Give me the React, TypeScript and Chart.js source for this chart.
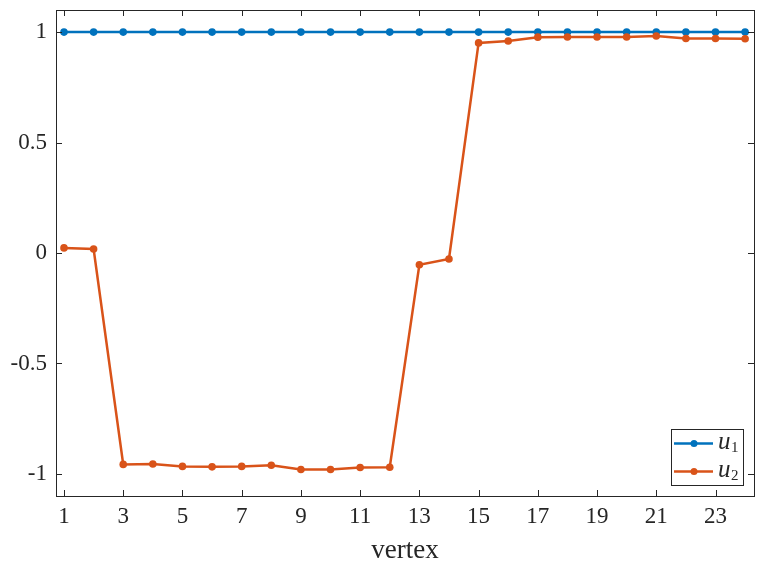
import React, { useEffect, useRef } from 'react';
import { Chart, registerables } from 'chart.js';

Chart.register(...registerables);

const vertices = [1, 2, 3, 4, 5, 6, 7, 8, 9, 10, 11, 12, 13, 14, 15, 16, 17, 18, 19, 20, 21, 22, 23, 24];
const u1 = [1, 1, 1, 1, 1, 1, 1, 1, 1, 1, 1, 1, 1, 1, 1, 1, 1, 1, 1, 1, 1, 1, 1, 1];
const u2 = [0.023, 0.018, -0.957, -0.955, -0.966, -0.968, -0.966, -0.961, -0.98, -0.98, -0.971, -0.97, -0.053, -0.027, 0.951, 0.96, 0.977, 0.978, 0.978, 0.978, 0.982, 0.971, 0.971, 0.97];
const xTicks = [1, 3, 5, 7, 9, 11, 13, 15, 17, 19, 21, 23];
const yTicks = [-1, -0.5, 0, 0.5, 1];
const yTickLabels = ['-1', '-0.5', '0', '0.5', '1'];
const seriesNames = ['1', '2'];
const seriesColors = ['#0072BD', '#D95319'];

const AXIS = '#262626';
const FONT = 'Liberation Serif';

const boxPlugin = {
  id: 'matlabBox',
  afterDatasetsDraw(chart: any) {
    const { ctx, chartArea: a, scales } = chart;
    ctx.save();
    ctx.strokeStyle = AXIS;
    ctx.lineWidth = 1;
    ctx.beginPath();
    const L = 6;
    for (const t of scales.x.ticks) {
      const px = Math.round(scales.x.getPixelForValue(t.value)) + 0.5;
      ctx.moveTo(px, a.bottom);
      ctx.lineTo(px, a.bottom - L);
      ctx.moveTo(px, a.top);
      ctx.lineTo(px, a.top + L);
    }
    for (const t of scales.y.ticks) {
      const py = Math.round(scales.y.getPixelForValue(t.value)) + 0.5;
      ctx.moveTo(a.left, py);
      ctx.lineTo(a.left + L, py);
      ctx.moveTo(a.right, py);
      ctx.lineTo(a.right - L, py);
    }
    ctx.stroke();
    ctx.strokeRect(Math.round(a.left) + 0.5, Math.round(a.top) + 0.5, Math.round(a.right - a.left), Math.round(a.bottom - a.top));

    // legend
    const lx = 671.5, ly = 429.5, lw = 72, lh = 56;
    ctx.fillStyle = '#ffffff';
    ctx.fillRect(lx, ly, lw, lh);
    ctx.strokeRect(lx, ly, lw, lh);
    const rows = [443.5, 471.5];
    chart.data.datasets.forEach((ds: any, i: number) => {
      const y = rows[i];
      ctx.strokeStyle = ds.borderColor;
      ctx.lineWidth = 2.5;
      ctx.beginPath();
      ctx.moveTo(674, y);
      ctx.lineTo(713, y);
      ctx.stroke();
      ctx.fillStyle = ds.borderColor;
      ctx.beginPath();
      ctx.arc(694, y, 3.5, 0, Math.PI * 2);
      ctx.fill();
      ctx.fillStyle = AXIS;
      ctx.textBaseline = 'alphabetic';
      ctx.textAlign = 'left';
      ctx.font = `italic 25px "${FONT}"`;
      ctx.fillText('u', 718, y + 5.5);
      ctx.font = `15px "${FONT}"`;
      ctx.fillText(seriesNames[i], 731, y + 8.5);
    });
    ctx.restore();
  },
};

export default function App() {
  const ref = useRef<HTMLCanvasElement>(null);
  useEffect(() => {
    if (!ref.current) return;
    const mk = (vals: number[]) => vertices.map((v, i) => ({ x: v, y: vals[i] }));
    const chart = new Chart(ref.current, {
      type: 'line',
      data: {
        datasets: [
          {
            label: 'u1',
            data: mk(u1),
            borderColor: seriesColors[0],
            backgroundColor: seriesColors[0],
            borderWidth: 2.5,
            pointRadius: 3.8,
            pointBorderWidth: 0,
            order: 2,
          },
          {
            label: 'u2',
            data: mk(u2),
            borderColor: seriesColors[1],
            backgroundColor: seriesColors[1],
            borderWidth: 2.5,
            pointRadius: 3.8,
            pointBorderWidth: 0,
            order: 1,
          },
        ],
      },
      options: {
        animation: false,
        responsive: false,
        maintainAspectRatio: false,
        layout: { padding: { left: 0, right: 11, top: 10, bottom: 0 } },
        plugins: { legend: { display: false }, tooltip: { enabled: false } },
        scales: {
          x: {
            type: 'linear',
            min: 0.73,
            max: 24.3,
            afterFit: (s: any) => { s.height = 71; s.paddingLeft = 0; s.paddingRight = 0; },
            afterBuildTicks: (s: any) => { s.ticks = xTicks.map((v) => ({ value: v })); },
            grid: { display: false, drawTicks: false },
            border: { display: false },
            ticks: {
              color: AXIS,
              font: { family: FONT, size: 23 },
              padding: 7,
              maxRotation: 0,
              autoSkip: false,
              callback: (v: any) => String(v),
            },
            title: {
              display: true,
              text: 'vertex',
              color: AXIS,
              font: { family: FONT, size: 27 },
              padding: { top: 0, bottom: 0 },
            },
          },
          y: {
            type: 'linear',
            min: -1.1,
            max: 1.1,
            afterFit: (s: any) => { s.width = 56; s.paddingTop = 0; s.paddingBottom = 0; },
            afterBuildTicks: (s: any) => { s.ticks = yTicks.map((v) => ({ value: v })); },
            grid: { display: false, drawTicks: false },
            border: { display: false },
            ticks: {
              color: AXIS,
              font: { family: FONT, size: 23 },
              padding: 9,
              autoSkip: false,
              callback: (v: any) => {
                const i = yTicks.indexOf(Number(v));
                return i >= 0 ? yTickLabels[i] : '';
              },
            },
          },
        },
      },
      plugins: [boxPlugin],
    });
    return () => chart.destroy();
  }, []);
  return (
    <div style={{ position: 'fixed', left: 0, top: 0, width: 765, height: 567, background: '#fff' }}>
      <canvas ref={ref} width={765} height={567} style={{ width: 765, height: 567 }} />
    </div>
  );
}
